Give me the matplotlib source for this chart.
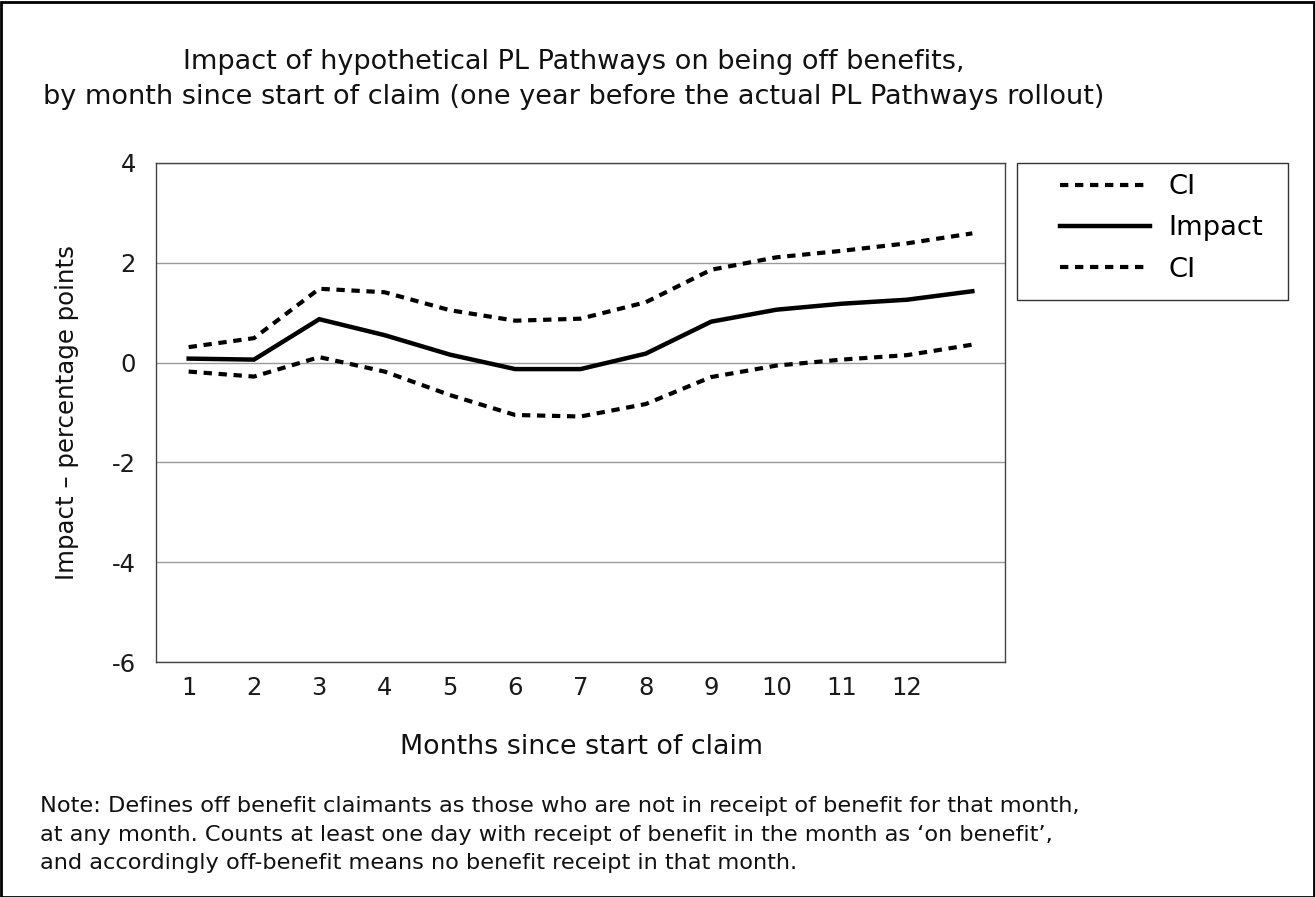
import matplotlib
matplotlib.use("Agg")
import matplotlib.pyplot as plt
from matplotlib.patches import Rectangle

months = [1, 2, 3, 4, 5, 6, 7, 8, 9, 10, 11, 12, 13]
tick_labels = ["1", "2", "3", "4", "5", "6", "7", "8", "9", "10", "11", "12", ""]
impact = [0.08, 0.06, 0.87, 0.55, 0.16, -0.13, -0.13, 0.18, 0.82, 1.06, 1.18, 1.26, 1.43]
ci_upper = [0.31, 0.49, 1.48, 1.41, 1.05, 0.84, 0.88, 1.21, 1.86, 2.11, 2.24, 2.39, 2.59]
ci_lower = [-0.18, -0.28, 0.11, -0.18, -0.65, -1.05, -1.08, -0.83, -0.29, -0.06, 0.06, 0.15, 0.36]

title = ("Impact of hypothetical PL Pathways on being off benefits,\n"
         "by month since start of claim (one year before the actual PL Pathways rollout)")
note = ("Note: Defines off benefit claimants as those who are not in receipt of benefit for that month,\n"
        "at any month. Counts at least one day with receipt of benefit in the month as \u2018on benefit\u2019,\n"
        "and accordingly off-benefit means no benefit receipt in that month.")

plt.rcParams['font.family'] = ['DejaVu Sans']

W, H = 1315, 897
fig = plt.figure(figsize=(W / 100, H / 100), dpi=100)
ax = fig.add_axes([156 / W, 1 - 662 / H, (1005 - 156) / W, (662 - 163) / H])

dash = (2.0, 1.6)
l1, = ax.plot(months, ci_upper, color='black', lw=3, ls=(0, dash), dash_capstyle='butt', label='CI')
l2, = ax.plot(months, impact, color='black', lw=3.2, label='Impact', solid_joinstyle='miter')
l3, = ax.plot(months, ci_lower, color='black', lw=3, ls=(0, dash), dash_capstyle='butt', label='CI')

ax.set_xlim(0.5, 13.5)
ax.set_ylim(-6, 4)
ax.set_xticks(months)
ax.set_xticklabels(tick_labels)
ax.set_yticks([-6, -4, -2, 0, 2, 4])
ax.set_yticklabels(["-6", "-4", "-2", "0", "2", "4"])
ax.tick_params(axis='both', length=0, labelsize=17.5, colors='#1a1a1a')
ax.tick_params(axis='y', pad=14.4)
ax.tick_params(axis='x', pad=10)
ax.grid(axis='y', color='#9a9a9a', lw=1)
ax.set_axisbelow(True)
for s in ax.spines.values():
    s.set_color('#444444')
    s.set_linewidth(1)

yl = ax.set_ylabel("Impact \u2013 percentage points", fontsize=17.6, color='#111111')
yl.set_verticalalignment('center')
ax.yaxis.set_label_coords((67 - 156) / 849, 0.5)
xl = ax.set_xlabel("Months since start of claim", fontsize=19.4, color='#111111')
xl.set_verticalalignment('center')
ax.xaxis.set_label_coords((582 - 156) / 849, (662 - 747) / 499)

fig.text(574 / W, 1 - 79.5 / H, title, ha='center', va='center', fontsize=19.5,
         linespacing=1.42, color='#111111')
fig.text(40 / W, 1 - 834.5 / H, note, ha='left', va='center', fontsize=16.2,
         linespacing=1.54, color='#111111')

leg = fig.legend(handles=[l1, l2, l3], loc='center left',
                 bbox_to_anchor=(1060 / W, 1 - 228.5 / H), fontsize=19.7,
                 frameon=False, handlelength=3.3, handletextpad=0.65,
                 labelspacing=0.55, borderpad=0, borderaxespad=0)

fig.patches.append(Rectangle((1017 / W, 1 - 300 / H), (1288 - 1017) / W, (300 - 163) / H,
                             transform=fig.transFigure, fill=False,
                             edgecolor='#333333', lw=1))
fig.patches.append(Rectangle((0.0008, 0.0), 0.9984, 0.998, transform=fig.transFigure,
                             fill=False, edgecolor='black', lw=2))

fig.savefig("out.png", dpi=100)
